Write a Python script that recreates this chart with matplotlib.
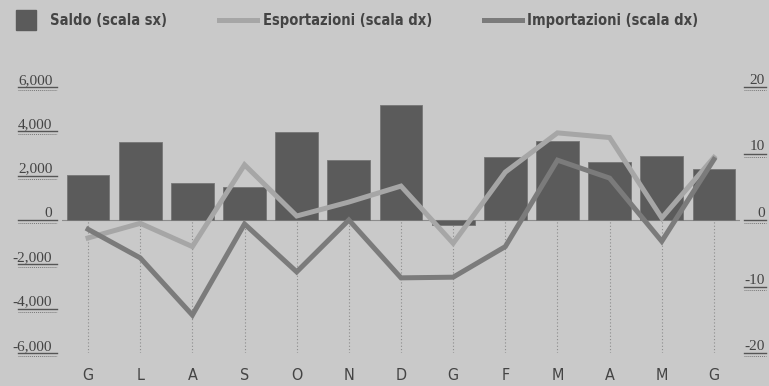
import matplotlib
matplotlib.use("Agg")
import matplotlib.pyplot as plt
from matplotlib import font_manager, transforms
from matplotlib.lines import Line2D

# dati (saldo in milioni, scala sx; variazioni % scala dx)
mesi = ["G", "L", "A", "S", "O", "N", "D", "G", "F", "M", "A", "M", "G"]
saldo = [2050, 3500, 1680, 1500, 3980, 2700, 5200, -230, 2820, 3570, 2610, 2880, 2300]
esportazioni = [-2.7, -0.5, -4.0, 8.3, 0.6, 2.7, 5.1, -3.5, 7.2, 13.1, 12.4, 0.3, 9.4]
importazioni = [-1.4, -5.7, -14.3, -0.6, -7.8, 0.0, -8.7, -8.6, -4.0, 9.0, 6.3, -3.2, 9.1]
tick_sx = [-6000, -4000, -2000, 0, 2000, 4000, 6000]
tick_dx = [-20, -10, 0, 10, 20]

# colori
sfondo = "#c9c9c9"
col_saldo = "#5b5b5b"
col_exp = "#a6a6a6"
col_imp = "#7b7b7b"
col_testo = "#444444"

nomi = {f.name for f in font_manager.fontManager.ttflist}
stretto = "Liberation Sans Narrow" if "Liberation Sans Narrow" in nomi else "DejaVu Sans"
serif = "Liberation Serif"

fig = plt.figure(figsize=(7.69, 3.86), dpi=100, facecolor=sfondo)
ax = fig.add_axes([62 / 769, 33 / 386, 678 / 769, 266 / 386])
ax.set_facecolor("none")
ax2 = ax.twinx()

x = list(range(len(mesi)))

# griglia verticale tratteggiata sotto lo zero
ax.vlines(x, -6000, 0, colors="#8c8c8c", linestyles=(0, (1, 2)), lw=0.8, zorder=0)
ax.axhline(0, color="#8c8c8c", lw=0.8, zorder=1)

# barre saldo
ax.bar(x, saldo, width=0.82, color=col_saldo, edgecolor="#767676", lw=0.6, zorder=2)

# linee
ax2.plot(x, esportazioni, color=col_exp, lw=3.6, solid_joinstyle="miter", zorder=3)
ax2.plot(x, importazioni, color=col_imp, lw=3.6, solid_joinstyle="miter", zorder=4)

ax.set_xlim(-0.5, len(mesi) - 0.5)
ax.set_ylim(-6000, 6000)
ax2.set_ylim(-20, 20)

for a in (ax, ax2):
    for s in a.spines.values():
        s.set_visible(False)

# etichette asse sx
ax.set_yticks(tick_sx)
ax.set_yticklabels(["{:,}".format(v) for v in tick_sx], fontfamily=serif, fontsize=11, color=col_testo)
ax.tick_params(axis="y", length=0, pad=7)
for lab in ax.get_yticklabels():
    lab.set_va("bottom")

# etichette asse dx
ax2.set_yticks(tick_dx)
ax2.set_yticklabels([str(v) for v in tick_dx], fontfamily=serif, fontsize=11, color=col_testo)
ax2.tick_params(axis="y", length=0, pad=18)
for lab in ax2.get_yticklabels():
    lab.set_ha("right")
    lab.set_va("bottom")

# sottolineature delle etichette
tr_sx = transforms.blended_transform_factory(fig.transFigure, ax.transData)
tr_dx = transforms.blended_transform_factory(fig.transFigure, ax2.transData)
for v in tick_sx:
    ax.plot([18 / 769, 57 / 769], [v, v], transform=tr_sx, color="#555555", lw=1.0, clip_on=False)
    ax.plot([18 / 769, 57 / 769], [v, v], color="#777777", lw=0.7, ls=(0, (1, 1)), clip_on=False,
            transform=transforms.offset_copy(tr_sx, fig, y=-3, units="dots"))
for v in tick_dx:
    ax2.plot([744 / 769, 766 / 769], [v, v], transform=tr_dx, color="#555555", lw=1.0, clip_on=False)
    ax2.plot([744 / 769, 766 / 769], [v, v], color="#777777", lw=0.7, ls=(0, (1, 1)), clip_on=False,
             transform=transforms.offset_copy(tr_dx, fig, y=-3, units="dots"))

# mesi
ax.set_xticks(x)
ax.set_xticklabels(mesi, fontfamily=stretto, fontstretch="condensed", fontsize=11.5, color=col_testo)
ax.tick_params(axis="x", length=0, pad=11)

# legenda
voci = [
    Line2D([], [], marker="s", markersize=14, ls="none", color=col_saldo),
    Line2D([], [], color=col_exp, lw=3.6),
    Line2D([], [], color=col_imp, lw=3.6),
]
etichette = ["Saldo (scala sx)", "Esportazioni (scala dx)", "Importazioni (scala dx)"]
fig.legend(voci, etichette, loc="upper left", bbox_to_anchor=(-0.008, 1.0), ncol=3,
           frameon=False, handlelength=2.6, handletextpad=0.35, columnspacing=3.6,
           prop={"family": stretto, "weight": "bold", "stretch": "condensed", "size": 10.5},
           labelcolor=col_testo)

fig.savefig("out.png", dpi=100, facecolor=sfondo)
